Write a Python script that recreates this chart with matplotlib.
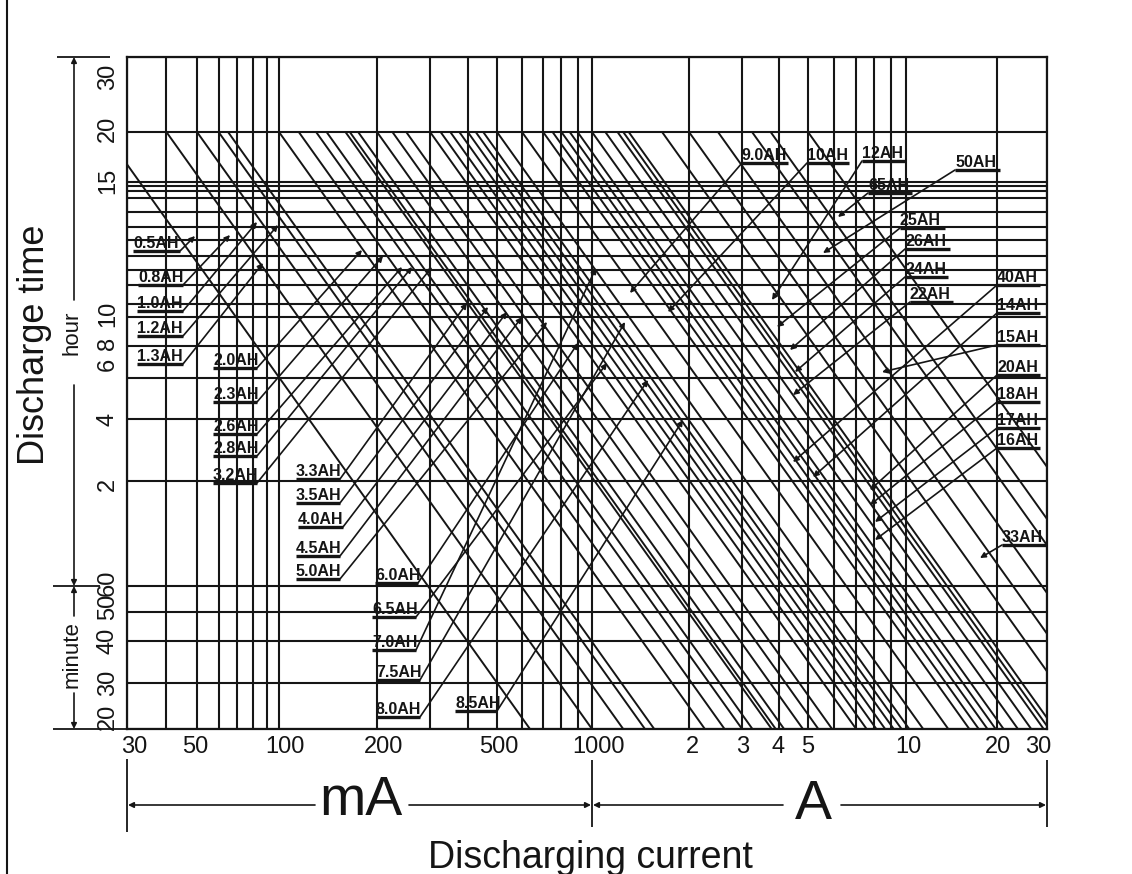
import numpy as np
import matplotlib
matplotlib.use("Agg")
import matplotlib.pyplot as plt
from matplotlib import transforms
from matplotlib.lines import Line2D

W, H = 1132, 874
INK = "#151515"

# ---------------- data ----------------
# battery capacities (Ah); each line starts at the 20-hour rate (C/20)
capacity_ah = [0.5, 0.8, 1.0, 1.2, 1.3, 2.0, 2.3, 2.6, 2.8, 3.2, 3.3, 3.5, 4.0,
               4.5, 5.0, 6.0, 6.5, 7.0, 7.5, 8.0, 8.5, 9.0, 10, 12, 14, 15, 16,
               17, 18, 20, 22, 24, 25, 26, 33, 40, 50, 65, 75, 100]
# discharge current (A) at which each line reaches 20 minutes
current_20min_a = [0.636, 1.00, 1.25, 1.46, 1.56, 2.26, 2.63, 3.01, 3.26, 3.78,
                   3.90, 4.16, 4.81, 5.38, 5.93, 7.03, 7.57, 8.11, 8.63, 9.17,
                   9.69, 10.25, 11.4, 13.8, 16.2, 17.4, 18.6, 19.8, 21.1, 23.7,
                   26.4, 29.2, 30.5, 31.9, 41.3, 50.9, 63.8, 83.2, 96.3, 128.5]

grid_current_a = [0.03, 0.04, 0.05, 0.06, 0.07, 0.08, 0.09, 0.1, 0.2, 0.3, 0.4,
                  0.5, 0.6, 0.7, 0.8, 0.9, 1, 2, 3, 4, 5, 6, 7, 8, 9, 10, 20, 30]
grid_hours = [30, 20, 15, 14.8, 14.6, 14.3, 13.7, 13.1, 12.6, 12.0, 11.5, 11.0,
              10.4, 10, 8, 6, 4, 2, 1, 50 / 60, 40 / 60, 30 / 60, 20 / 60]

x_tick_a = [0.03, 0.05, 0.1, 0.2, 0.5, 1, 2, 3, 4, 5, 10, 20, 30]
x_tick_text = ["30", "50", "100", "200", "500", "1000", "2", "3", "4", "5",
               "10", "20", "30"]
y_tick_h = [30, 20, 15, 10, 8, 6, 4, 2, 1, 50 / 60, 40 / 60, 30 / 60, 20 / 60]
y_tick_text = ["30", "20", "15", "10", "8", "6", "4", "2", "60", "50", "40",
               "30", "20"]

# ---------------- layout ----------------
# nudges (pixels) for tick labels
x_tick_dx = [7, -2, 6, 7, 2, 7, 3, 1, -1, 0, 2, 1, -9]
y_tick_dy = [-20, 3, 1, 3, 3, 14, 0, -3, 3, 5, 0, 0, 12]

# capacity labels: text, underline x0, x1, underline y, arrow tip, side of leader
label_layout = [
    ("0.5AH", 133, 180, 251, 195, 236, "L"),
    ("0.8AH", 138, 183, 285, 230, 235, "L"),
    ("1.0AH", 137, 183, 311, 257, 222, "L"),
    ("1.2AH", 137, 183, 336, 278, 225, "L"),
    ("1.3AH", 137, 183, 364, 263, 263, "L"),
    ("2.0AH", 213, 257, 368, 362, 250, "L"),
    ("2.3AH", 213, 257, 402, 383, 256, "L"),
    ("2.6AH", 213, 257, 434, 402, 267, "L"),
    ("2.8AH", 213, 257, 456, 412, 267, "L"),
    ("3.2AH", 213, 257, 483, 432, 267, "L"),
    ("3.3AH", 296, 340, 479, 467, 303, "L"),
    ("3.5AH", 296, 340, 503, 488, 307, "L"),
    ("4.0AH", 298, 343, 527, 507, 312, "L"),
    ("4.5AH", 296, 340, 556, 522, 317, "L"),
    ("5.0AH", 296, 340, 579, 547, 322, "L"),
    ("6.0AH", 375, 418, 583, 578, 343, "L"),
    ("6.5AH", 372, 416, 617, 607, 363, "L"),
    ("7.0AH", 372, 416, 650, 596, 268, "L"),
    ("7.5AH", 376, 420, 680, 625, 322, "L"),
    ("8.0AH", 376, 420, 717, 648, 380, "L"),
    ("8.5AH", 455, 497, 711, 683, 420, "L"),
    ("9.0AH", 742, 788, 163, 630, 293, "R"),
    ("10AH", 807, 849, 163, 668, 312, "R"),
    ("12AH", 862, 906, 161, 772, 300, "R"),
    ("65AH", 868, 912, 193, 838, 217, "R"),
    ("50AH", 955, 1000, 170, 823, 253, "R"),
    ("25AH", 900, 945, 228, 777, 327, "R"),
    ("26AH", 905, 950, 249, 790, 350, "R"),
    ("24AH", 905, 948, 277, 795, 372, "R"),
    ("22AH", 910, 953, 302, 793, 395, "R"),
    ("40AH", 997, 1040, 285, 793, 462, "R"),
    ("14AH", 997, 1040, 313, 813, 477, "R"),
    ("15AH", 997, 1040, 345, 882, 372, "R"),
    ("20AH", 997, 1040, 375, 870, 490, "R"),
    ("18AH", 997, 1040, 402, 870, 505, "R"),
    ("17AH", 997, 1040, 428, 875, 522, "R"),
    ("16AH", 997, 1040, 448, 875, 540, "R"),
    ("33AH", 1002, 1047, 545, 980, 558, "R"),
]

# ---------------- axis scales ----------------
X_KNOT_A = [0.01, 0.03, 0.05, 0.1, 0.2, 0.5, 1, 2, 5, 10, 20, 30, 1000]
X_KNOT_P = [-12, 127, 197, 279, 377, 497, 592, 689, 808, 906, 997, 1047, 1498]
Y_KNOT_H = [0.1, 1 / 3, 0.5, 2 / 3, 5 / 6, 1, 2, 4, 6, 8, 10, 15, 20, 30, 100]
Y_KNOT_P = [886, 729, 683, 641, 612, 586, 481, 419, 378, 346, 317, 182, 132, 57, -123]

_lx = np.log10(X_KNOT_A)
_px = np.array(X_KNOT_P, float)
_ly = np.log10(Y_KNOT_H)
_py = -np.array(Y_KNOT_P, float)


def x_fwd(v):
    v = np.clip(np.asarray(v, float), 1e-9, None)
    return np.interp(np.log10(v), _lx, _px)


def x_inv(p):
    return 10 ** np.interp(np.asarray(p, float), _px, _lx)


def y_fwd(v):
    v = np.clip(np.asarray(v, float), 1e-9, None)
    return np.interp(np.log10(v), _ly, _py)


def y_inv(p):
    return 10 ** np.interp(np.asarray(p, float), _py, _ly)


# ---------------- figure ----------------
fig = plt.figure(figsize=(W / 100, H / 100), dpi=100)
fig.patch.set_facecolor("white")
pix = transforms.Affine2D().scale(1.0 / W, -1.0 / H).translate(0, 1) + fig.transFigure

ax = fig.add_axes([127 / W, (H - 729) / H, 920 / W, 672 / H])
ax.set_xscale("function", functions=(x_fwd, x_inv))
ax.set_yscale("function", functions=(y_fwd, y_inv))
ax.set_xlim(0.03, 30)
ax.set_ylim(1 / 3, 30)
ax.set_xticks([])
ax.set_yticks([])
ax.minorticks_off()
for sp in ax.spines.values():
    sp.set_linewidth(1.6)
    sp.set_color(INK)

for c in grid_current_a:
    ax.axvline(c, color=INK, lw=1.5)
for h in grid_hours:
    ax.axhline(h, color=INK, lw=1.5)

for cap, i_end in zip(capacity_ah, current_20min_a):
    ax.plot([cap / 20, i_end], [20, 20 / 60], color=INK, lw=1.4,
            solid_capstyle="butt")

num_font = ["Liberation Sans Narrow", "Liberation Sans", "DejaVu Sans"]
sans = ["Liberation Sans", "DejaVu Sans"]

xt = ax.get_xaxis_transform()
for v, s, dx in zip(x_tick_a, x_tick_text, x_tick_dx):
    tr = transforms.offset_copy(xt, fig=fig, x=dx, y=0, units="dots")
    ax.text(v, -18 / 672, s, transform=tr, ha="center", va="center",
            fontsize=17, family=num_font, color=INK)

yt = ax.get_yaxis_transform()
for v, s, dy in zip(y_tick_h, y_tick_text, y_tick_dy):
    tr = transforms.offset_copy(yt, fig=fig, x=0, y=dy, units="dots")
    ax.text(-19 / 920, v, s, transform=tr, rotation=90, ha="center",
            va="center", fontsize=17, family=num_font, color=INK)


def seg(x0, y0, x1, y1, lw=1.3):
    fig.add_artist(Line2D([x0, x1], [y0, y1], transform=pix, color=INK, lw=lw,
                          solid_capstyle="butt"))


def arrow(x0, y0, x1, y1, lw=1.2, ms=9):
    ax.annotate("", xy=(x1, y1), xycoords=pix, xytext=(x0, y0), textcoords=pix,
                annotation_clip=False,
                arrowprops=dict(arrowstyle="-|>", color=INK, lw=lw,
                                mutation_scale=ms, shrinkA=0, shrinkB=0))


# capacity labels with underline and leader arrow
for text, xl, xr, yu, tx, ty, side in label_layout:
    fig.text(xl, yu - 3, text, transform=pix, ha="left", va="baseline",
             fontsize=11.5, fontweight="bold", family=sans, color=INK)
    seg(xl, yu, xr, yu, lw=2.4)
    sx = xr if side == "L" else xl
    arrow(sx, yu, tx, ty, lw=1.2, ms=8)

# vertical axis title and hour / minute dimension marks
fig.text(35, 345, "Discharge time", transform=pix, rotation=90, ha="center",
         va="center", fontsize=26, family=sans, color=INK)
seg(57, 57, 110, 57)
seg(53, 586, 100, 586)
seg(53, 729, 127, 729)
arrow(74, 300, 74, 57, lw=1.2, ms=8)
arrow(74, 385, 74, 586, lw=1.2, ms=8)
fig.text(72, 333, "hour", transform=pix, rotation=90, ha="center",
         va="center", fontsize=16, family=sans, color=INK)
arrow(74, 616, 74, 586, lw=1.2, ms=8)
arrow(74, 693, 74, 729, lw=1.2, ms=8)
fig.text(72, 655, "minute", transform=pix, rotation=90, ha="center",
         va="center", fontsize=16, family=sans, color=INK)

# horizontal axis units and title
seg(127, 759, 127, 832)
seg(592, 760, 592, 827)
seg(1047, 760, 1047, 827)
arrow(315, 805, 128, 805, lw=1.2, ms=8)
arrow(409, 805, 591, 805, lw=1.2, ms=8)
arrow(783, 805, 593, 805, lw=1.2, ms=8)
arrow(841, 805, 1046, 805, lw=1.2, ms=8)
fig.text(361, 801, "mA", transform=pix, ha="center", va="center",
         fontsize=40, family=sans, color=INK)
fig.text(813, 805, "A", transform=pix, ha="center", va="center",
         fontsize=40, family=sans, color=INK)
fig.text(590, 868, "Discharging current", transform=pix, ha="center",
         va="baseline", fontsize=27, family=sans, color=INK)

# outer frame line on the left
seg(7, 0, 7, 874, lw=1.5)

fig.savefig("out.png", dpi=100, facecolor="white")
